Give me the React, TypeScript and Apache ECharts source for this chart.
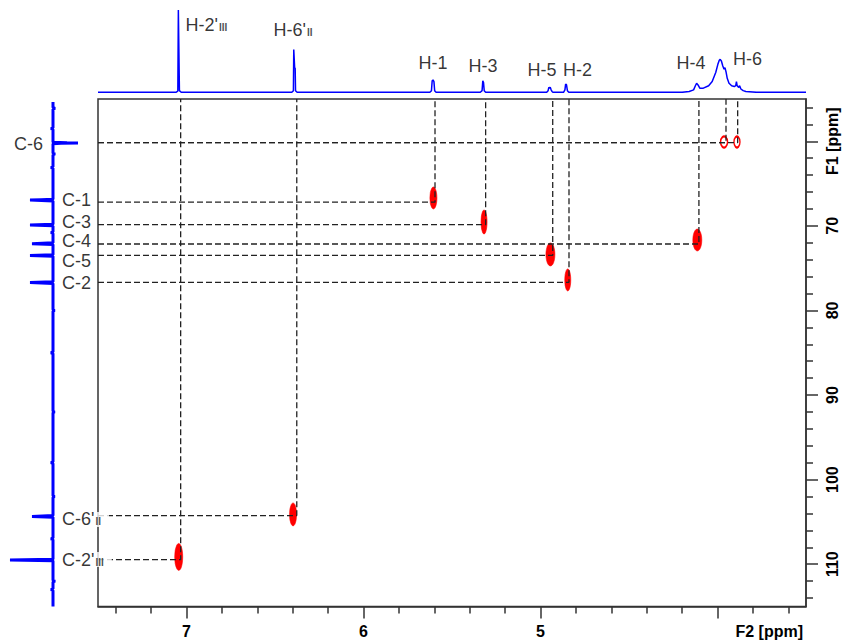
import React, { useEffect, useRef } from 'react';
import * as echarts from 'echarts';

// ---------- axes ----------
const f2Min = 3.5;
const f2Max = 7.5;
const f2MajorTicks = [4, 5, 6, 7];
const f2TickLabels = [5, 6, 7];
const f2MinorTicks = [3.6, 3.8, 4.2, 4.4, 4.6, 4.8, 5.2, 5.4, 5.6, 5.8, 6.2, 6.4, 6.6, 6.8, 7.2, 7.4];
const f2Title = 'F2 [ppm]';

const f1Min = 55;
const f1Max = 115;
const f1MajorTicks = [60, 70, 80, 90, 100, 110];
const f1TickLabels = [60, 70, 80, 90, 100, 110];
const f1MinorTicks = [56, 58, 62, 64, 66, 68, 72, 74, 76, 78, 82, 84, 86, 88, 92, 94, 96, 98, 102, 104, 106, 108, 112, 114];
const f1Title = 'F1 [ppm]';

// ---------- assignments (dashed guide lines) ----------
const protonShift = [7.033, 6.377, 5.596, 5.31, 4.931, 4.839, 4.105, 3.952, 3.886];
const carbonShift = [109.46, 104.25, 67.2, 69.86, 73.48, 76.67, 72.14, 60.16, 60.16];

// ---------- HSQC cross peaks ----------
const peakH = [7.044, 6.398, 5.605, 5.319, 4.944, 4.846, 4.114, 3.963, 3.89];
const peakC = [109.14, 104.11, 66.7, 69.54, 73.38, 76.39, 71.67, 60.08, 60.08];

// ---------- 1H projection (ppm, intensity) ----------
const protonSpectrum: [number, number][] = [
  [7.5, 0], [7.06, 0], [7.049, 1.5], [7.046, 100], [7.043, 100], [7.04, 2], [7.03, 0],
  [6.405, 0], [6.396, 2], [6.394, 52], [6.391, 52], [6.389, 30], [6.386, 29], [6.384, 2], [6.375, 0],
  [5.625, 0], [5.616, 2], [5.612, 14], [5.607, 15], [5.602, 13], [5.598, 2], [5.59, 0],
  [5.34, 0], [5.33, 2], [5.326, 14], [5.322, 12], [5.318, 2], [5.31, 0],
  [4.965, 0], [4.957, 2], [4.953, 6], [4.949, 5], [4.945, 6], [4.94, 3], [4.935, 1], [4.93, 0],
  [4.87, 0], [4.862, 3], [4.858, 10], [4.853, 9], [4.848, 2], [4.84, 0],
  [4.2, 0], [4.16, 1], [4.135, 3], [4.125, 8], [4.118, 11], [4.11, 9], [4.1, 5], [4.08, 5], [4.05, 8],
  [4.03, 13], [4.01, 24], [3.998, 34], [3.99, 39], [3.985, 40], [3.978, 38], [3.97, 32], [3.963, 28],
  [3.958, 30], [3.952, 25], [3.945, 17], [3.935, 11], [3.92, 8], [3.905, 7], [3.897, 8], [3.893, 13],
  [3.889, 8], [3.88, 6], [3.875, 8], [3.868, 4], [3.855, 2], [3.84, 1], [3.78, 0], [3.5, 0],
];

// ---------- 13C projection (intensity, ppm) ----------
const carbonSpectrum: [number, number][] = [
  [0, 55.35], [0, 56], [-2, 56.1], [0, 56.2], [0, 58.4], [2, 58.5], [0, 58.6],
  [0, 60.12], [-14, 60.18], [-25, 60.2], [-8, 60.22], [0, 60.28],
  [0, 61.4], [-2, 61.5], [0, 61.6], [0, 63], [2, 63.1], [0, 63.2],
  [0, 66.85], [12, 66.9], [23, 66.95], [0, 67.05],
  [0, 69.8], [23, 69.9], [0, 70.0], [0, 70.7], [2, 70.8], [0, 70.9],
  [0, 72.0], [21, 72.1], [0, 72.2],
  [0, 73.4], [23, 73.5], [0, 73.6],
  [0, 76.6], [23, 76.7], [0, 76.8],
  [0, 79.9], [-1.5, 80], [0, 80.1], [0, 84.9], [2, 85], [0, 85.1], [0, 91.9], [-1.5, 92], [0, 92.1],
  [0, 97.9], [2, 98], [0, 98.1], [0, 101.9], [-1.5, 102], [0, 102.1],
  [0, 104.25], [21, 104.35], [0, 104.45],
  [0, 106.9], [2, 107], [0, 107.1],
  [0, 109.4], [43, 109.5], [0, 109.6],
  [0, 111.9], [-2, 112], [0, 112.1], [0, 112.9], [2, 113], [0, 113.1], [0, 115],
];

// ---------- labels ----------
const hLabelText = ["H-2'|III", "H-6'|II", 'H-1', 'H-3', 'H-5', 'H-2', 'H-4', 'H-6'];
const hLabelPpm = [6.887, 6.398, 5.607, 5.325, 4.992, 4.791, 4.15, 3.831];
const hLabelHeight = [81.8, 75.7, 35.6, 32, 27.1, 27.1, 35.6, 40.5];

const cLabelText = ['C-6', 'C-1', 'C-3', 'C-4', 'C-5', 'C-2', "C-6'|II", "C-2'|III"];
const cLabelPpm = [60.32, 66.94, 69.54, 71.84, 74.15, 76.8, 104.7, 109.45];

// ---------- styles ----------
const FONT = '"Liberation Sans", Arial, sans-serif';
const BLUE = '#0000ff';
const RED = '#ff0000';
const FRAME = '#333333';
const TEXT = '#000000';
const peakSize = [[8, 27], [7, 23], [7, 22], [6, 24], [9, 23], [6, 22], [9, 22], [7, 11], [6, 11]];
const peakOpen = [false, false, false, false, false, false, false, true, true];

const rich = {
  m: { fontSize: 18, fontFamily: FONT, color: TEXT, lineHeight: 15 },
  s: { fontSize: 10, fontFamily: FONT, fontWeight: 'bold', color: '#222', verticalAlign: 'bottom', lineHeight: 15, padding: [0, 0, 0, 1] },
};
const richFormatter = (p: any) => {
  const [a, b] = String(p.name).split('|');
  return b ? `{m|${a}}{s|${b}}` : `{m|${a}}`;
};

function buildOption() {
  const grids = [
    { left: 98, top: 99, width: 708, height: 507.5, show: true, borderColor: FRAME, borderWidth: 1.5, backgroundColor: 'transparent' },
    { left: 98, top: 10, width: 708, height: 82.3, show: false },
    { left: 0, top: 99, width: 98, height: 507.5, show: false },
  ];

  const tickLabelStyle = { fontFamily: FONT, fontSize: 16, fontWeight: 'bold', color: TEXT };

  const xAxis: any[] = [
    {
      gridIndex: 0, type: 'value', min: f2Min, max: f2Max, inverse: true, position: 'bottom',
      axisLine: { show: true, lineStyle: { color: FRAME, width: 1.5 } },
      axisTick: { show: true, customValues: f2MajorTicks, length: 12, lineStyle: { color: FRAME, width: 1.5 } },
      axisLabel: { show: true, customValues: f2TickLabels, margin: 17, ...tickLabelStyle },
      splitLine: { show: false },
    },
    {
      gridIndex: 0, type: 'value', min: f2Min, max: f2Max, inverse: true, position: 'bottom',
      axisLine: { show: false },
      axisTick: { show: true, customValues: f2MinorTicks, length: 7, lineStyle: { color: FRAME, width: 1.5 } },
      axisLabel: { show: false },
      splitLine: { show: false },
    },
    { gridIndex: 1, type: 'value', min: f2Min, max: f2Max, inverse: true, show: false },
    { gridIndex: 2, type: 'value', min: -45, max: 53, inverse: true, show: false },
  ];

  const yAxis: any[] = [
    {
      gridIndex: 0, type: 'value', min: f1Min, max: f1Max, inverse: true, position: 'right',
      axisLine: { show: true, lineStyle: { color: FRAME, width: 1.5 } },
      axisTick: { show: true, customValues: f1MajorTicks, length: 12, lineStyle: { color: FRAME, width: 1.5 } },
      axisLabel: {
        show: true, customValues: f1TickLabels, rotate: 90, margin: 18, ...tickLabelStyle,
        formatter: (v: number) => (v === f1TickLabels[0] ? f1Title : String(v)),
      },
      splitLine: { show: false },
    },
    {
      gridIndex: 0, type: 'value', min: f1Min, max: f1Max, inverse: true, position: 'right',
      axisLine: { show: false },
      axisTick: { show: true, customValues: f1MinorTicks, length: 7, lineStyle: { color: FRAME, width: 1.5 } },
      axisLabel: { show: false },
      splitLine: { show: false },
    },
    { gridIndex: 1, type: 'value', min: 0, max: 100, show: false },
    { gridIndex: 2, type: 'value', min: f1Min, max: f1Max, inverse: true, show: false },
  ];

  const series: any[] = [];

  // 1H projection
  series.push({
    type: 'line', xAxisIndex: 2, yAxisIndex: 2, data: protonSpectrum, showSymbol: false, symbol: 'none',
    lineStyle: { color: BLUE, width: 1.5 }, z: 3, silent: true,
  });
  // 13C projection
  series.push({
    type: 'line', xAxisIndex: 3, yAxisIndex: 3, data: carbonSpectrum, showSymbol: false, symbol: 'none',
    lineStyle: { color: BLUE, width: 3 }, z: 3, silent: true,
  });

  // cross peaks
  series.push({
    type: 'scatter', xAxisIndex: 0, yAxisIndex: 0, z: 2, silent: true,
    data: peakH.map((h, i) => ({
      value: [h, peakC[i]],
      symbol: 'circle',
      symbolSize: peakSize[i],
      itemStyle: peakOpen[i]
        ? { color: '#ffffff', borderColor: RED, borderWidth: 1.8, opacity: 1 }
        : { color: RED, borderColor: RED, borderWidth: 0.5, opacity: 1 },
    })),
  });

  // dashed guide lines
  protonShift.forEach((h, i) => {
    const c = carbonShift[i];
    series.push({
      type: 'line', xAxisIndex: 0, yAxisIndex: 0, symbol: 'none', showSymbol: false, z: 4, silent: true,
      data: [[f2Max, c], [h, c], [h, f1Min]],
      lineStyle: { color: '#222222', width: 1.3, type: [6, 3] },
    });
  });

  // proton labels
  series.push({
    type: 'scatter', xAxisIndex: 2, yAxisIndex: 2, symbolSize: 0, z: 6, silent: true,
    data: hLabelText.map((t, i) => ({ name: t, value: [hLabelPpm[i], hLabelHeight[i]] })),
    label: { show: true, position: 'inside', formatter: richFormatter, rich },
  });

  // carbon labels
  series.push({
    type: 'scatter', xAxisIndex: 3, yAxisIndex: 3, symbolSize: 0, z: 6, silent: true,
    data: cLabelText.map((t, i) => {
      const hasSub = t.includes('|');
      const leftSide = i === 0;
      return {
        name: t,
        value: [0, cLabelPpm[i]],
        label: {
          show: true,
          position: leftSide ? 'left' : 'right',
          distance: leftSide ? 10 : 9,
          formatter: richFormatter,
          rich,
          backgroundColor: hasSub ? '#ffffff' : 'transparent',
          padding: hasSub ? [0, 8, 0, 0] : 0,
        },
      };
    }),
  });

  return {
    animation: false,
    backgroundColor: '#ffffff',
    grid: grids,
    xAxis,
    yAxis,
    series,
    graphic: [
      {
        type: 'text', right: 844 - 803, top: 623, z: 10,
        style: { text: f2Title, font: `bold 16px ${FONT}`, fill: TEXT },
      },
    ],
  };
}

export default function App() {
  const ref = useRef<HTMLDivElement>(null);
  useEffect(() => {
    const chart = echarts.init(ref.current!, null, { renderer: 'svg' });
    chart.setOption(buildOption() as any);
    return () => chart.dispose();
  }, []);
  return <div ref={ref} style={{ position: 'absolute', left: 0, top: 0, width: 844, height: 644 }} />;
}
